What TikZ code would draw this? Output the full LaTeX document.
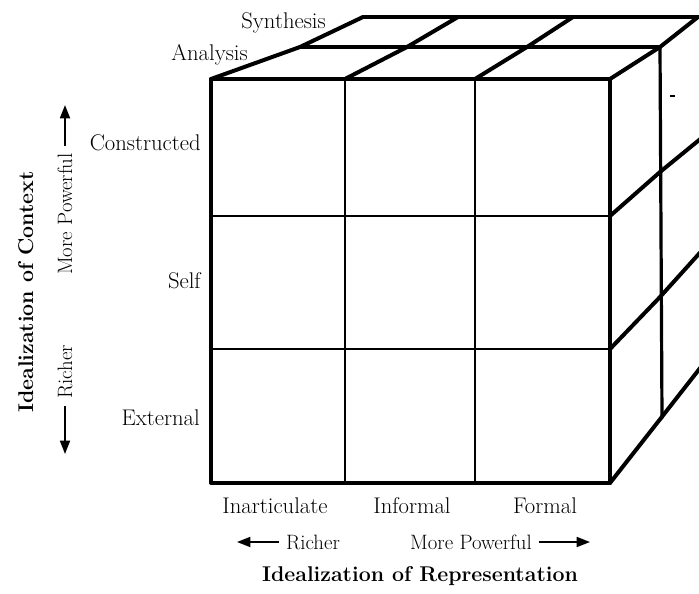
\documentclass[tikz,border=0pt]{standalone}
\usetikzlibrary{arrows.meta}
\begin{document}
\begin{tikzpicture}[x=0.75pt,y=-0.75pt,
  heavy/.style={line width=3pt, line cap=round, line join=round},
  light/.style={line width=1.5pt},
  mid/.style={line width=2.4pt, line cap=round},
  lab/.style={font=\fontsize{17}{20}\selectfont, inner sep=0pt},
  small/.style={font=\fontsize{15.6}{18}\selectfont, inner xsep=5pt, inner ysep=0pt},
  title/.style={font=\bfseries\fontsize{16}{19}\selectfont, inner sep=0pt},
  arr/.style={line width=1.3pt, -{Triangle[length=10pt,width=7.5pt]}}]

\useasboundingbox (0,0) rectangle (699,593);

% ---- the cube ----
\begin{scope}
  \clip (0,0) rectangle (699,593);
  % front face: inner grid, then the outer frame
  \draw[light] (345,79) -- (345,483) (475,79) -- (475,483)
               (211,216) -- (610,216) (211,349) -- (610,349);
  \draw[heavy] (211,79) rectangle (610,483);
  % top face
  \draw[heavy] (300,47) -- (660,47);
  \draw[heavy] (363,17) -- (698,17);
  \draw[heavy] (211,79) -- (300,47) -- (363,17);
  \draw[heavy] (345,79) -- (407,47) -- (458,17);
  \draw[heavy] (475,79) -- (527,47) -- (573,17);
  \draw[heavy] (610,79) -- (660,47) -- (698,17);
  % right face
  \draw[mid] (660,47) -- (662,418);
  \draw[heavy] (610,216) -- (660,172) -- (715,127);
  \draw[heavy] (610,349) -- (660,297) -- (715,236);
  \draw[heavy] (610,483) -- (661,418) -- (715,349);
  \draw[line width=1.5pt] (670,96) -- (675,96);
\end{scope}

% ---- layer labels on top ----
\node[lab, anchor=base east] (syn) at (326,28) {Synthesis};
\node[lab, anchor=base east] (ana) at (248,60) {Analysis};

% ---- row labels ----
\node[lab, anchor=base east] (con) at (201,150) {Constructed};
\node[lab, anchor=base east] (slf) at (201,288) {Self};
\node[lab, anchor=base east] (ext) at (200,425) {External};

% ---- column labels ----
\node[lab, anchor=base] (ina) at (275,513) {Inarticulate};
\node[lab, anchor=base] (inf) at (412,513) {Informal};
\node[lab, anchor=base] (frm) at (545,513) {Formal};

% ---- horizontal axis ----
\node[small] (richH) at (313,542) {Richer};
\node[small] (powH) at (471,542) {More Powerful};
\coordinate (tipL) at (237,542);
\coordinate (tipR) at (590,542);
\draw[arr] (richH.west) -- (tipL);
\draw[arr] (powH.east) -- (tipR);
\node[title, anchor=base] (repr) at (420,581) {Idealization of Representation};

% ---- vertical axis ----
\node[small, rotate=90] (powV) at (65,214) {More Powerful};
\node[small, rotate=90] (richV) at (65,372) {Richer};
\coordinate (tipU) at (65,105);
\coordinate (tipD) at (65,454);
\draw[arr] (powV.east) -- (tipU);
\draw[arr] (richV.west) -- (tipD);
\node[title, rotate=90, anchor=base] (ctx) at (33,292) {Idealization of Context};
\end{tikzpicture}
\end{document}
